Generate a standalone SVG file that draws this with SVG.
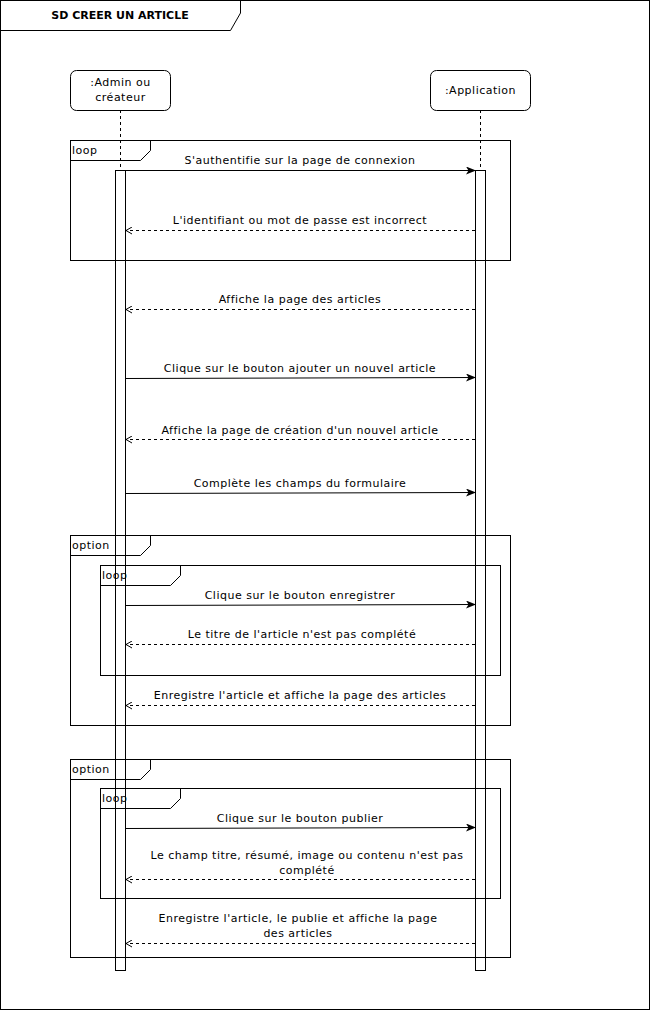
<svg xmlns="http://www.w3.org/2000/svg" width="651" height="1011" viewBox="0 0 651 1011">
<style>
text{font-family:"DejaVu Sans",Verdana,sans-serif;font-size:11px;fill:#000}
.m{letter-spacing:0.5px}
.c{text-anchor:middle}
.fr{fill:none;stroke:#000;stroke-width:1}
.box{fill:#fff;stroke:#000;stroke-width:1}
.life{stroke:#000;stroke-dasharray:3,3;fill:none}
.msg{stroke:#000;fill:none}
.ret{stroke:#000;fill:none;stroke-dasharray:3,3}
</style>
<defs>
<marker id="arr" markerWidth="10" markerHeight="8" refX="9" refY="4" orient="auto" markerUnits="userSpaceOnUse">
<path d="M0,0 L10,4 L0,8 L2.5,4 Z" fill="#000"/>
</marker>
<marker id="open" markerWidth="8" markerHeight="8" refX="7" refY="4" orient="auto" markerUnits="userSpaceOnUse">
<path d="M1,0.5 L7,4 L1,7.5" fill="none" stroke="#000"/>
</marker>
</defs>
<rect x="0" y="0" width="650" height="1010" fill="#fff"/>
<g id="frame">
<rect class="fr" x="0.5" y="0.5" width="649" height="1009"/>
<path class="fr" d="M0.5,0.5 H240.5 V13 L230.5,30.5 H0.5"/>
<text class="c" x="120" y="19" style="font-weight:bold">SD CREER UN ARTICLE</text>
</g>
<g id="admin">
<line class="life" x1="120.5" y1="110" x2="120.5" y2="970"/>
<rect class="box" x="70.5" y="70.5" width="100" height="40" rx="6"/>
<text class="c m" x="120.5" y="86">:Admin ou</text>
<text class="c m" x="120.5" y="101">créateur</text>
<rect class="box" x="115.5" y="170.5" width="10" height="800"/>
</g>
<g id="application">
<line class="life" x1="480.5" y1="110" x2="480.5" y2="970"/>
<rect class="box" x="430.5" y="70.5" width="100" height="40" rx="6"/>
<text class="c m" x="480.5" y="94">:Application</text>
<rect class="box" x="475.5" y="170.5" width="10" height="800"/>
</g>
<g id="loop1">
<rect class="fr" x="70.5" y="140.5" width="440" height="120"/>
<path class="fr" d="M70.5,160.5 H140.5 L150.5,150.5 V140.5"/>
<text class="m" x="72" y="154">loop</text>
</g>
<g id="option1">
<rect class="fr" x="70.5" y="535.5" width="440" height="190"/>
<path class="fr" d="M70.5,555.5 H140.5 L150.5,545.5 V535.5"/>
<text class="m" x="72" y="549">option</text>
</g>
<g id="loop2">
<rect class="fr" x="100.5" y="565.5" width="400" height="110"/>
<path class="fr" d="M100.5,585.5 H170.5 L180.5,575.5 V565.5"/>
<text class="m" x="102" y="579">loop</text>
</g>
<g id="option2">
<rect class="fr" x="70.5" y="759.5" width="440" height="198"/>
<path class="fr" d="M70.5,779.5 H140.5 L150.5,769.5 V759.5"/>
<text class="m" x="72" y="773">option</text>
</g>
<g id="loop3">
<rect class="fr" x="100.5" y="788.5" width="400" height="110"/>
<path class="fr" d="M100.5,808.5 H170.5 L180.5,798.5 V788.5"/>
<text class="m" x="102" y="802">loop</text>
</g>
<g id="connectors">
<line class="msg" x1="125.5" y1="170.5" x2="475" y2="170.5" marker-end="url(#arr)"/>
<text class="c m" x="300" y="164">S'authentifie sur la page de connexion</text>
<line class="ret" x1="475" y1="230.5" x2="126" y2="230.5" marker-end="url(#open)"/>
<text class="c m" x="300" y="224">L'identifiant ou mot de passe est incorrect</text>
<line class="ret" x1="475" y1="309.5" x2="126" y2="309.5" marker-end="url(#open)"/>
<text class="c m" x="300" y="303">Affiche la page des articles</text>
<line class="msg" x1="125.5" y1="378.5" x2="475" y2="377.5" marker-end="url(#arr)"/>
<text class="c m" x="300" y="372">Clique sur le bouton ajouter un nouvel article</text>
<line class="ret" x1="475" y1="439.5" x2="126" y2="439.5" marker-end="url(#open)"/>
<text class="c m" x="300" y="434">Affiche la page de création d'un nouvel article</text>
<line class="msg" x1="126" y1="493.5" x2="475" y2="492.5" marker-end="url(#arr)"/>
<text class="c m" x="300" y="487">Complète les champs du formulaire</text>
<line class="msg" x1="126" y1="605.5" x2="475" y2="604.5" marker-end="url(#arr)"/>
<text class="c m" x="300" y="599">Clique sur le bouton enregistrer</text>
<line class="ret" x1="475" y1="644.5" x2="126" y2="644.5" marker-end="url(#open)"/>
<text class="c m" x="302" y="638">Le titre de l'article n'est pas complété</text>
<line class="ret" x1="475" y1="705.5" x2="126" y2="705.5" marker-end="url(#open)"/>
<text class="c m" x="300" y="699">Enregistre l'article et affiche la page des articles</text>
<line class="msg" x1="126" y1="828.5" x2="475" y2="827.5" marker-end="url(#arr)"/>
<text class="c m" x="300" y="822">Clique sur le bouton publier</text>
<line class="ret" x1="475" y1="879.5" x2="126" y2="879.5" marker-end="url(#open)"/>
<text class="c m" x="307" y="859">Le champ titre, résumé, image ou contenu n'est pas</text>
<text class="c m" x="307" y="874">complété</text>
<line class="ret" x1="475" y1="943.5" x2="126" y2="943.5" marker-end="url(#open)"/>
<text class="c m" x="298" y="922">Enregistre l'article, le publie et affiche la page</text>
<text class="c m" x="298" y="937">des articles</text>
</g>
</svg>
